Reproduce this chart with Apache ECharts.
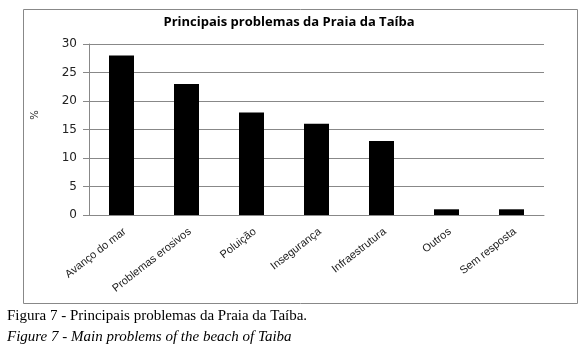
<!DOCTYPE html>
<html>
<head>
<meta charset="utf-8">
<script src="https://cdn.jsdelivr.net/npm/echarts@6/dist/echarts.min.js"></script>
<style>
  html, body { margin: 0; padding: 0; background: #fff; }
  #chart { width: 584px; height: 352px; }
</style>
</head>
<body>
<div id="chart"></div>
<script>
// valores
const categories = ['Avanço do mar', 'Problemas erosivos', 'Poluição', 'Insegurança', 'Infraestrutura', 'Outros', 'Sem resposta']
const values = [28, 23, 18, 16, 13, 1, 1]
const yTicks = [0, 5, 10, 15, 20, 25, 30]

const chart = echarts.init(document.getElementById('chart'))
chart.setOption({
  animation: false,
  title: {
    text: 'Principais problemas da Praia da Taíba',
    left: 284,
    textAlign: 'center',
    top: 11,
    textStyle: { fontFamily: 'Open Sans', fontWeight: 'bold', fontSize: 13, color: '#000' }
  },
  grid: { left: 89, right: 40, top: 44, bottom: 137 },
  xAxis: {
    type: 'category',
    data: categories,
    axisLine: { lineStyle: { color: '#888', width: 1 } },
    axisTick: { show: false },
    axisLabel: {
      rotate: 38,
      interval: 0,
      margin: 11,
      verticalAlign: 'top',
      fontFamily: 'Liberation Sans',
      fontSize: 11,
      color: '#222'
    }
  },
  yAxis: {
    type: 'value',
    min: yTicks[0],
    max: yTicks[yTicks.length - 1],
    interval: 5,
    axisLine: { show: true, lineStyle: { color: '#888' } },
    axisTick: { show: true, length: 6, lineStyle: { color: '#888' } },
    splitLine: { lineStyle: { color: '#888', width: 1 } },
    axisLabel: { margin: 12, fontFamily: 'DejaVu Sans', fontSize: 12, color: '#222' }
  },
  series: [{
    type: 'bar',
    data: values,
    barWidth: 25,
    itemStyle: { color: '#000' }
  }],
  graphic: [
    {
      type: 'rect',
      shape: { x: 23.5, y: 9.5, width: 554, height: 294 },
      style: { fill: null, stroke: '#888', lineWidth: 1 },
      silent: true
    },
    {
      type: 'text',
      x: 35,
      y: 115,
      rotation: Math.PI / 2,
      style: { text: '%', font: '10px "DejaVu Sans"', fill: '#222', align: 'center', verticalAlign: 'middle' }
    },
    {
      type: 'text',
      left: 7,
      top: 309,
      style: { text: 'Figura 7 - Principais problemas da Praia da Taíba.', font: '15px "Liberation Serif"', fill: '#000' }
    },
    {
      type: 'text',
      left: 7,
      top: 330,
      style: { text: 'Figure 7 - Main problems of the beach of Taiba', font: 'italic 15px "Liberation Serif"', fill: '#000' }
    }
  ]
})
</script>
</body>
</html>
